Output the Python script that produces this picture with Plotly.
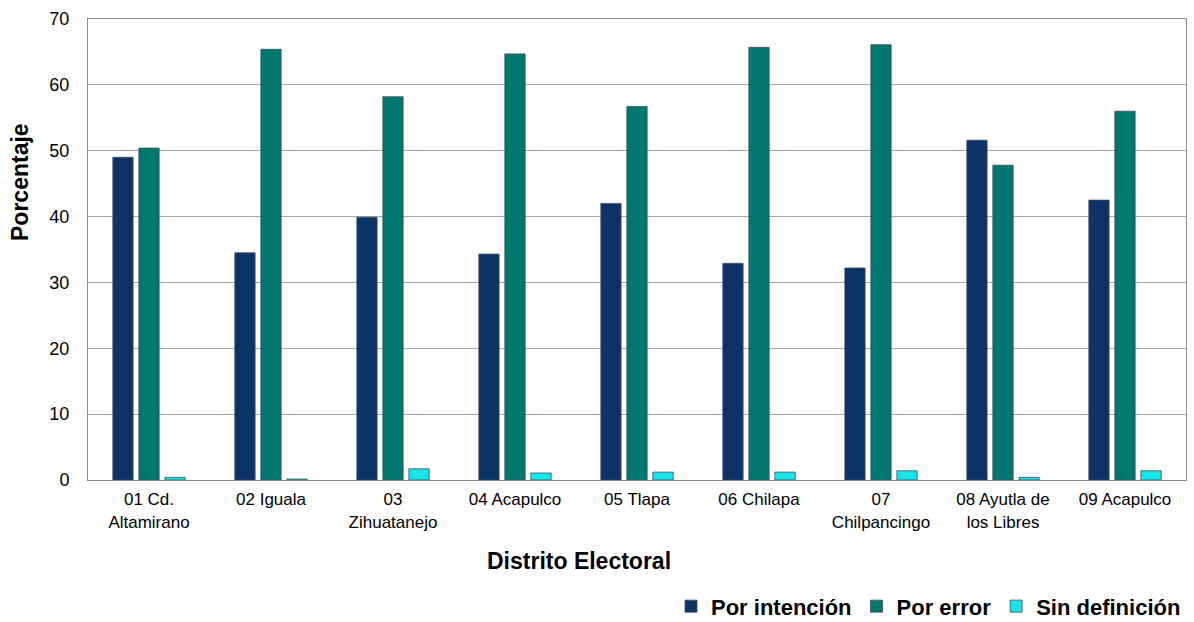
import plotly.graph_objects as go

categories = ["01 Cd.<br>Altamirano", "02 Iguala", "03<br>Zihuatanejo", "04 Acapulco", "05 Tlapa",
              "06 Chilapa", "07<br>Chilpancingo", "08 Ayutla de<br>los Libres", "09 Acapulco"]
por_intencion = [49.0, 34.5, 39.9, 34.3, 42.0, 32.9, 32.2, 51.6, 42.5]
por_error = [50.4, 65.4, 58.2, 64.7, 56.7, 65.7, 66.1, 47.8, 56.0]
sin_definicion = [0.4, 0.15, 1.7, 1.06, 1.2, 1.2, 1.4, 0.4, 1.4]
y_ticks = [0, 10, 20, 30, 40, 50, 60, 70]

W, H = 1194, 622
L, R, T, B = 88, 8, 19, 142

fig = go.Figure()
series = [("Por intención", por_intencion, "#0D3266"),
          ("Por error", por_error, "#00786F"),
          ("Sin definición", sin_definicion, "#17E5E8")]
for name, vals, col in series:
    fig.add_trace(go.Bar(x=categories, y=vals, name=name,
                         marker=dict(color=col, line=dict(color="#3E4E5E", width=0.8))))

fig.update_layout(
    template="none",
    width=W, height=H,
    margin=dict(l=L, r=R, t=T, b=B, autoexpand=False),
    paper_bgcolor="white", plot_bgcolor="white",
    barmode="group", bargap=0.36, bargroupgap=0.22,
    font=dict(family="Liberation Sans, Arial", color="black"),
    showlegend=True,
    legend=dict(orientation="h", x=1.0, xanchor="right", y=-0.2285, yanchor="top",
                font=dict(size=22, family="Liberation Sans, Arial", color="black", weight="bold"),
                traceorder="normal", itemwidth=30, tracegroupgap=0, bgcolor="rgba(0,0,0,0)"),
    xaxis=dict(showline=True, linecolor="#8C8C8C", linewidth=1, mirror=True, automargin=False,
               tickfont=dict(size=17), ticks="", showgrid=False, ticklabelstandoff=4),
    yaxis=dict(range=[0, 70], tickvals=y_ticks, showgrid=True, gridcolor="#A6A6A6", gridwidth=1,
               showline=True, linecolor="#8C8C8C", linewidth=1, mirror=True, automargin=False,
               tickfont=dict(size=18), ticks="", zeroline=False, ticklabelstandoff=14),
    annotations=[
        dict(text="<b>Distrito Electoral</b>", x=(579 - L) / (W - L - R), xref="paper",
             y=-(561 - (H - B)) / (H - T - B), yref="paper", showarrow=False,
             font=dict(size=23), xanchor="center", yanchor="middle"),
        dict(text="<b>Porcentaje</b>", x=-(L - 20) / (W - L - R), xref="paper",
             y=(480 - 182) / (H - T - B), yref="paper", showarrow=False, textangle=-90,
             font=dict(size=23), xanchor="center", yanchor="middle"),
    ],
)

fig.write_html("out.html", config={"displayModeBar": False},
               post_script="document.body.style.margin='0';document.body.style.overflow='hidden';")
